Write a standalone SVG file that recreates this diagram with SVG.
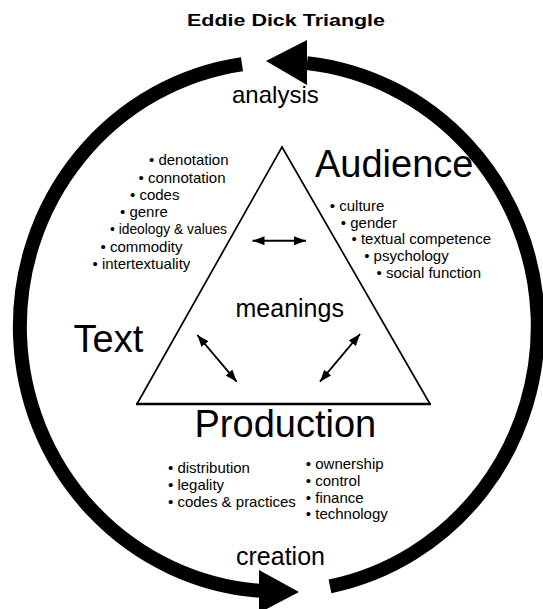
<svg xmlns="http://www.w3.org/2000/svg" width="543" height="609" viewBox="0 0 543 609">
<defs>
<style>
text{font-family:"Liberation Sans",Arial,sans-serif;fill:#000}
.title{font-size:17px;font-weight:bold}
.big{font-size:38px}
.mid{font-size:25px}
.item{font-size:15px}
.cycle{fill:none;stroke:#000;stroke-width:14}
.tri{fill:none;stroke:#000;stroke-width:1.7;stroke-linejoin:miter}
.dbl{stroke:#000;stroke-width:1.9;fill:none;marker-start:url(#ah);marker-end:url(#ah)}
</style>
<marker id="ah" viewBox="0 -4.5 12 9" refX="12" refY="0" markerWidth="12" markerHeight="9" markerUnits="userSpaceOnUse" orient="auto-start-reverse">
<path d="M0,-4.5 L12,0 L0,4.5 Z" fill="#000"/>
</marker>
</defs>
<rect width="543" height="609" fill="#fff"/>
<text class="title" x="187" y="26" textLength="198" lengthAdjust="spacingAndGlyphs">Eddie Dick Triangle</text>
<g id="connectors">
<path id="cycle-right" class="cycle" d="M307,63.1 A259,265 0 0 1 330,586.3"/>
<polygon id="cycle-top-head" points="266,61 307,40 307,85" fill="#000"/>
<path id="cycle-left" class="cycle" d="M260,590.8 A259,265 0 0 1 242,64.2"/>
<polygon id="cycle-bottom-head" points="259,570 299,592 259,613" fill="#000"/>
<line class="dbl" x1="252.5" y1="240.7" x2="306" y2="240.7"/>
<line class="dbl" x1="197.3" y1="335" x2="236.7" y2="381.7"/>
<line class="dbl" x1="360" y1="334" x2="320" y2="381.7"/>
</g>
<g id="triangle">
<polyline class="tri" points="137,404 282,147 430,404"/>
<line x1="136" y1="404" x2="431" y2="404" stroke="#000" stroke-width="2.6"/>
</g>
<g id="analysis"><text class="mid" x="232" y="103" style="font-size:24px">analysis</text></g>
<g id="creation"><text class="mid" x="236" y="565">creation</text></g>
<g id="meanings"><text class="mid" x="235.5" y="317">meanings</text></g>
<g id="text-node">
<text class="big" x="73.5" y="352">Text</text>
<text class="item" x="149" y="165">• denotation</text>
<text class="item" x="138.5" y="182.5">• connotation</text>
<text class="item" x="130" y="200">• codes</text>
<text class="item" x="120" y="217">• genre</text>
<text class="item" x="110" y="234" textLength="117" lengthAdjust="spacingAndGlyphs">• ideology &amp; values</text>
<text class="item" x="100.5" y="251.5">• commodity</text>
<text class="item" x="92.5" y="269">• intertextuality</text>
</g>
<g id="audience-node">
<text class="big" x="315" y="177">Audience</text>
<text class="item" x="329.8" y="210.5">• culture</text>
<text class="item" x="340.8" y="227.5">• gender</text>
<text class="item" x="351.5" y="244">• textual competence</text>
<text class="item" x="364.2" y="261">• psychology</text>
<text class="item" x="376.5" y="278">• social function</text>
</g>
<g id="production-node">
<text class="big" x="194.5" y="437">Production</text>
<text class="item" x="168" y="472.5">• distribution</text>
<text class="item" x="168" y="489.5">• legality</text>
<text class="item" x="168" y="506.5">• codes &amp; practices</text>
<text class="item" x="305.8" y="469">• ownership</text>
<text class="item" x="305.8" y="486">• control</text>
<text class="item" x="305.8" y="502.5">• finance</text>
<text class="item" x="305.8" y="519">• technology</text>
</g>
</svg>
